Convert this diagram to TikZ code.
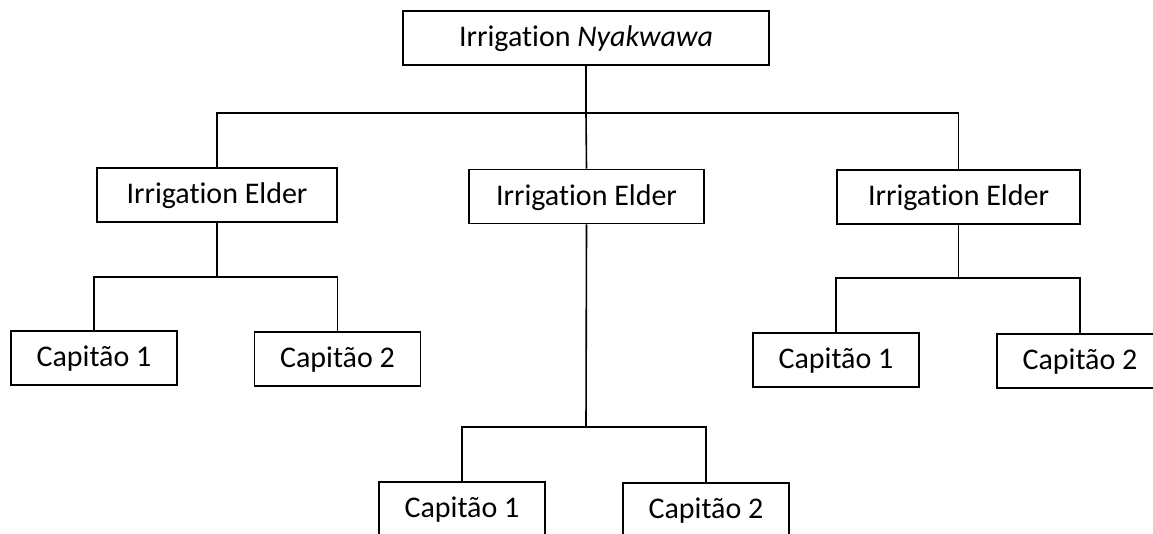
\documentclass[tikz,border=0pt]{standalone}
\usepackage{fontspec}
\setmainfont{Carlito}[Ligatures = NoCommon]
\usepackage{tikz}
\usetikzlibrary{positioning}

\tikzset{
	box/.style = {draw, line width = 1.6pt, inner sep = 0pt,
		text height = 23, text depth = 6,
		minimum height = 54, font = \fontsize{30}{36}\selectfont},
	elderbox/.style = {box, minimum width = 240},
	capbox/.style = {box, minimum width = 166},
	link/.style = {line width = 1.6pt}
}

\begin{document}
\begin{tikzpicture}[x = 1pt, y = -1pt]
\useasboundingbox (0,0) rectangle (1153,533);
\clip (0,0) rectangle (1153,533);
% head and elders
\node [box, minimum width = 366] (head) at (586,38) {Irrigation \textit{Nyakwawa}};
\node [elderbox] (elderL) at (217,195) {Irrigation Elder};
\node [elderbox, minimum width = 235] (elderM) at (586.5,196.5) {Irrigation Elder};
\node [elderbox, minimum width = 243] (elderR) at (958.5,197) {Irrigation Elder};
% capitaes
\node [capbox] (capL1) at (94,358) {Capitão 1};
\node [capbox] (capL2) at (337.5,359) {Capitão 2};
\node [capbox] (capM1) at (462,509) {Capitão 1};
\node [capbox] (capM2) at (706,510) {Capitão 2};
\node [capbox] (capR1) at (836,360) {Capitão 1};
\node [capbox] (capR2) at (1080,361) {Capitão 2};
% junctions
\coordinate (busH) at (586,113);
\coordinate (busL) at (217,277);
\coordinate (busM) at (586,427);
\coordinate (busR) at (958.5,278);
\draw [link] (head.south) -- (busH) -- (elderM.north);
\draw [link] (elderL.north) |- (busH) -| (elderR.north);
\draw [link] (elderL.south) -- (busL);
\draw [link] (capL1.north) |- (busL) -| (capL2.north);
\draw [link] (elderM.south) -- (busM);
\draw [link] (capM1.north) |- (busM) -| (capM2.north);
\draw [link] (elderR.south) -- (busR);
\draw [link] (capR1.north) |- (busR) -| (capR2.north);
\end{tikzpicture}
\end{document}
